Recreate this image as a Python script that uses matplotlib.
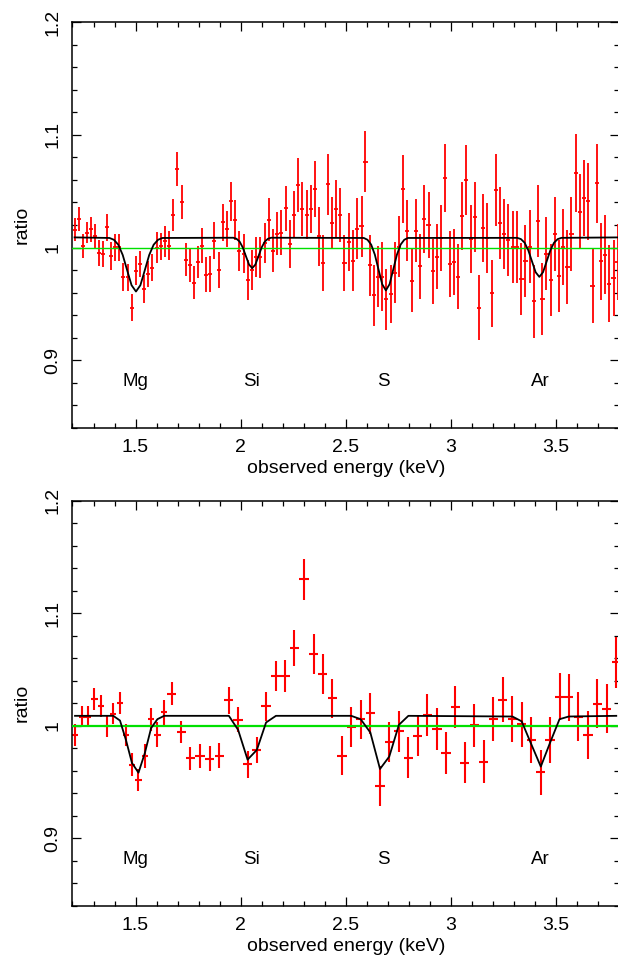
import matplotlib
matplotlib.use('Agg')
import matplotlib.pyplot as plt
from matplotlib.ticker import MultipleLocator, FixedLocator, FuncFormatter

plt.rcParams['font.family'] = ['Liberation Sans', 'DejaVu Sans']

# ---------------- top panel data (fine binning) ----------------
top_energy = [
    1.210, 1.229, 1.248, 1.268, 1.288, 1.307, 1.326, 1.345, 1.366, 1.385,
    1.404, 1.423, 1.442, 1.463, 1.482, 1.501, 1.521, 1.541, 1.561, 1.580,
    1.601, 1.621, 1.641, 1.661, 1.680, 1.699, 1.720, 1.739, 1.758, 1.777,
    1.798, 1.817, 1.836, 1.856, 1.875, 1.896, 1.917, 1.936, 1.956, 1.975,
    1.994, 2.015, 2.034, 2.055, 2.074,
    2.094, 2.115, 2.134, 2.153, 2.174, 2.194, 2.214, 2.234, 2.253, 2.274,
    2.293, 2.314, 2.333, 2.353, 2.372, 2.393, 2.414, 2.434, 2.455, 2.474,
    2.494, 2.515, 2.534, 2.555, 2.575, 2.594, 2.615, 2.634, 2.655, 2.674,
    2.693, 2.714, 2.733, 2.753, 2.774, 2.793, 2.814, 2.833, 2.853,
    2.874, 2.894, 2.915, 2.934, 2.955, 2.974, 2.994, 3.014, 3.034, 3.055,
    3.074, 3.094, 3.114, 3.134, 3.155, 3.174, 3.194, 3.215, 3.234, 3.255,
    3.274, 3.294, 3.315, 3.336, 3.355, 3.375, 3.396, 3.415, 3.436, 3.455,
    3.475, 3.494, 3.515, 3.534, 3.555, 3.574, 3.594, 3.614, 3.634, 3.653,
    3.674, 3.694, 3.714, 3.734, 3.753, 3.774, 3.793]
top_ratio = [
    1.0157, 1.0254, 1.0015, 1.0133, 1.0162, 1.0103, 0.9953, 0.9941, 1.0180, 0.9923,
    1.0003, 1.0003, 0.9737, 0.9737, 0.9466, 0.9796, 0.9855, 0.9631, 0.9764, 0.9823,
    0.9997, 1.0012, 1.0056, 1.0018, 1.0286, 1.0696, 1.0401, 0.9891, 0.9841, 0.9687,
    0.9873, 1.0018, 0.9761, 0.9767, 1.0062, 0.9802, 1.0224, 1.0165, 1.0409, 1.0245,
    0.9968, 0.9947, 0.9711, 0.9800, 0.9918,
    0.9914, 1.0041, 1.0248, 0.9973, 1.0121, 1.0130, 1.0348, 1.0032, 1.0292, 1.0552,
    1.0342, 1.0292, 1.0342, 1.0519, 1.0100, 0.9861, 1.0560, 1.0221, 1.0345, 1.0292,
    0.9861, 1.0050, 0.9885, 1.0165, 1.0189, 1.0761, 0.9844, 0.9578, 0.9743, 0.9743,
    0.9540, 0.9587, 0.9775, 1.0009, 1.0519, 1.0150, 0.9705, 1.0150, 0.9832,
    1.0251, 1.0201, 0.9788, 0.9920, 1.0083, 1.0614, 0.9853, 0.9873, 0.9743, 1.0277,
    1.0599, 1.0077, 1.0274, 0.9466, 1.0171, 1.0086, 0.9593, 1.0510, 1.0221, 1.0118,
    1.0068, 1.0006, 1.0006, 0.9720, 0.9879, 1.0009, 0.9522, 1.0233, 0.9543, 0.9947,
    0.9714, 1.0121, 0.9749, 1.0006, 0.9826, 1.0121, 1.0661, 1.0319, 1.0440, 1.0410,
    0.9661, 1.0569, 0.9879, 0.9935, 0.9681, 0.9729, 0.9873]
top_err = [
    0.0103, 0.0106, 0.0106, 0.0096, 0.0110, 0.0103, 0.0115, 0.0114, 0.0120, 0.0122,
    0.0118, 0.0118, 0.0125, 0.0121, 0.0118, 0.0125, 0.0118, 0.0125, 0.0118, 0.0118,
    0.0137, 0.0120, 0.0136, 0.0125, 0.0142, 0.0147, 0.0150, 0.0147, 0.0147, 0.0147,
    0.0145, 0.0152, 0.0155, 0.0162, 0.0167, 0.0162, 0.0165, 0.0160, 0.0173, 0.0178,
    0.0180, 0.0173, 0.0177, 0.0180, 0.0177,
    0.0180, 0.0180, 0.0190, 0.0190, 0.0190, 0.0200, 0.0200, 0.0210, 0.0210, 0.0240,
    0.0240, 0.0220, 0.0210, 0.0250, 0.0260, 0.0250, 0.0270, 0.0230, 0.0250, 0.0240,
    0.0250, 0.0260, 0.0270, 0.0270, 0.0270, 0.0270, 0.0270, 0.0270, 0.0270, 0.0310,
    0.0270, 0.0260, 0.0270, 0.0270, 0.0300, 0.0270, 0.0280, 0.0280, 0.0290,
    0.0300, 0.0290, 0.0290, 0.0290, 0.0290, 0.0300, 0.0290, 0.0290, 0.0290, 0.0300,
    0.0310, 0.0300, 0.0310, 0.0290, 0.0300, 0.0310, 0.0300, 0.0320, 0.0320, 0.0310,
    0.0320, 0.0320, 0.0320, 0.0320, 0.0320, 0.0320, 0.0320, 0.0320, 0.0320, 0.0320,
    0.0320, 0.0330, 0.0320, 0.0340, 0.0330, 0.0330, 0.0350, 0.0330, 0.0340, 0.0340,
    0.0330, 0.0350, 0.0340, 0.0350, 0.0340, 0.0340, 0.0340]
top_xerr = 0.0098

top_model_energy = [
    1.21, 1.376, 1.397, 1.418, 1.439, 1.460, 1.481, 1.502, 1.523, 1.544, 1.565, 1.586, 1.607, 1.628,
    1.965, 1.980, 1.995, 2.010, 2.025, 2.040, 2.055, 2.070, 2.085, 2.100, 2.115, 2.130, 2.145,
    2.586, 2.6035, 2.621, 2.6385, 2.656, 2.6735, 2.691, 2.7085, 2.726, 2.7435, 2.761, 2.7785, 2.796,
    3.316, 3.3335, 3.351, 3.3685, 3.386, 3.4035, 3.421, 3.4385, 3.456, 3.4735, 3.491, 3.5085, 3.526,
    3.80]
top_model_ratio = [
    1.009, 1.0085, 1.0069, 1.0025, 0.9934, 0.9799, 0.9666, 0.961, 0.9666, 0.9799, 0.9934, 1.0025, 1.0069, 1.0085,
    1.0087, 1.0078, 1.0053, 1.0001, 0.9924, 0.9849, 0.9817, 0.9849, 0.9924, 1.0001, 1.0053, 1.0078, 1.0087,
    1.0085, 1.0069, 1.0026, 0.9937, 0.9805, 0.9675, 0.962, 0.9675, 0.9805, 0.9937, 1.0026, 1.0069, 1.0085,
    1.0086, 1.0075, 1.0043, 0.9976, 0.9878, 0.9781, 0.974, 0.9781, 0.9878, 0.9976, 1.0043, 1.0075, 1.0086,
    1.009]

# ---------------- bottom panel data (coarse binning) ----------------
bottom_energy = [
    1.212, 1.244, 1.272, 1.304, 1.334, 1.364, 1.394, 1.426, 1.455, 1.483,
    1.514, 1.544, 1.574, 1.604, 1.636, 1.672, 1.717, 1.761, 1.807, 1.853,
    1.898, 1.944, 1.988, 2.033, 2.077, 2.121, 2.168, 2.212, 2.256, 2.302,
    2.347, 2.391, 2.437, 2.482, 2.526, 2.571, 2.617, 2.663, 2.707, 2.753,
    2.798, 2.842, 2.888, 2.934, 2.977, 3.021, 3.066, 3.112, 3.156, 3.202,
    3.247, 3.293, 3.337, 3.382, 3.428, 3.472, 3.517, 3.561, 3.607, 3.652,
    3.696, 3.741, 3.787]
bottom_ratio = [
    0.9920, 1.0083, 1.0083, 1.0237, 1.0178, 1.0000, 1.0107, 1.0199, 0.9917, 0.9656,
    0.9519, 0.9733, 1.0059, 0.9920, 1.0119, 1.0285, 0.9947, 0.9712, 0.9733, 0.9709,
    0.9733, 1.0226, 1.0053, 0.9660, 0.9786, 1.0172, 1.0442, 1.0442, 1.0692, 1.1300,
    1.0638, 1.0460, 1.0243, 0.9736, 0.9991, 1.0059, 1.0110, 0.9466, 0.9855, 0.9950,
    0.9718, 0.9911, 1.0095, 0.9970, 0.9757, 1.0169, 0.9673, 1.0006, 0.9682, 1.0059,
    1.0232, 1.0059, 1.0015, 0.9875, 0.9587, 0.9875, 1.0258, 1.0252, 1.0083, 0.9920,
    1.0196, 1.0154, 1.0564]
bottom_err = [
    0.0095, 0.0095, 0.0095, 0.0095, 0.0095, 0.0095, 0.0095, 0.0098, 0.0100, 0.0100,
    0.0100, 0.0103, 0.0103, 0.0110, 0.0113, 0.0100, 0.0100, 0.0104, 0.0107, 0.0114,
    0.0111, 0.0123, 0.0111, 0.0119, 0.0119, 0.0129, 0.0134, 0.0141, 0.0157, 0.0178,
    0.0181, 0.0180, 0.0174, 0.0170, 0.0175, 0.0175, 0.0182, 0.0180, 0.0180, 0.0180,
    0.0182, 0.0182, 0.0184, 0.0185, 0.0184, 0.0188, 0.0185, 0.0190, 0.0193, 0.0197,
    0.0200, 0.0202, 0.0200, 0.0205, 0.0200, 0.0208, 0.0208, 0.0212, 0.0215, 0.0215,
    0.0218, 0.0218, 0.0227]
bottom_xerr = [
    0.015, 0.015, 0.015, 0.015, 0.015, 0.015, 0.015, 0.015, 0.015, 0.015,
    0.015, 0.015, 0.015, 0.015, 0.016, 0.020, 0.022, 0.022, 0.022, 0.022,
    0.022, 0.022, 0.022, 0.022, 0.022, 0.022, 0.022, 0.022, 0.022, 0.022,
    0.022, 0.022, 0.022, 0.022, 0.022, 0.022, 0.022, 0.022, 0.022, 0.022,
    0.022, 0.022, 0.022, 0.022, 0.022, 0.022, 0.022, 0.022, 0.022, 0.022,
    0.022, 0.022, 0.022, 0.022, 0.022, 0.022, 0.022, 0.022, 0.022, 0.022,
    0.022, 0.022, 0.022]

bottom_model_energy = [
    1.212, 1.394, 1.426, 1.455, 1.483, 1.514, 1.544, 1.574, 1.604, 1.636,
    1.944, 1.988, 2.033, 2.077, 2.121, 2.168,
    2.526, 2.571, 2.617, 2.663, 2.707, 2.753, 2.798,
    3.293, 3.337, 3.382, 3.428, 3.472, 3.517, 3.561, 3.787]
bottom_model_ratio = [
    1.0089, 1.0089, 1.0047, 0.987, 0.967, 0.9584, 0.9757, 0.998, 1.0059, 1.0089,
    1.0089, 0.9964, 0.970, 0.9786, 1.003, 1.0089,
    1.0089, 1.0059, 0.9941, 0.9617, 0.9727, 1.0009, 1.0089,
    1.0083, 1.004, 0.984, 0.9638, 0.985, 1.0059, 1.0083, 1.0089]

line_names = ['Mg', 'Si', 'S', 'Ar']
line_label_energy = [1.50, 2.05, 2.68, 3.425]
label_level = 0.881

# ---------------- figure ----------------
fig = plt.figure(figsize=(6.18, 9.56), dpi=100)
ax1 = fig.add_axes([0.1173, 0.5523, 0.8843, 0.4247])
ax2 = fig.add_axes([0.1173, 0.0523, 0.8843, 0.4240])

fmt = FuncFormatter(lambda v, p: '%g' % round(v, 3))


def style(ax):
    ax.set_xlim(1.2, 3.8)
    ax.set_ylim(0.84, 1.2)
    ax.xaxis.set_major_locator(MultipleLocator(0.5))
    ax.xaxis.set_minor_locator(MultipleLocator(0.1))
    ax.yaxis.set_major_locator(FixedLocator([0.9, 1.0, 1.1, 1.2]))
    ax.yaxis.set_minor_locator(MultipleLocator(0.02))
    ax.xaxis.set_major_formatter(fmt)
    ax.yaxis.set_major_formatter(fmt)
    ax.tick_params(which='both', direction='in', top=True, right=True,
                   width=0.9, color='black')
    ax.tick_params(which='major', length=6.5, labelsize=14, pad=8)
    ax.tick_params(which='minor', length=3.6)
    ax.tick_params(axis='y', labelrotation=90)
    for lab in ax.get_yticklabels():
        lab.set_verticalalignment('center')
    for s in ax.spines.values():
        s.set_linewidth(1.1)
    ax.set_xlabel('observed energy (keV)', fontsize=14, labelpad=3)
    ax.set_ylabel('ratio', fontsize=14, labelpad=10)
    for name, e in zip(line_names, line_label_energy):
        ax.text(e, label_level, name, ha='center', va='center', fontsize=13.5)


# top
ax1.errorbar(top_energy, top_ratio, yerr=top_err, xerr=top_xerr, fmt='none',
             ecolor='#ff0000', elinewidth=1.3, capsize=0, zorder=2)
ax1.axhline(1.0, color='#00e000', lw=1.0, zorder=3)
ax1.plot(top_model_energy, top_model_ratio, color='black', lw=1.3, zorder=4)
style(ax1)

# bottom
ax2.errorbar(bottom_energy, bottom_ratio, yerr=bottom_err, xerr=bottom_xerr, fmt='none',
             ecolor='#ff0000', elinewidth=1.5, capsize=0, zorder=2)
ax2.axhline(1.0, color='#00e000', lw=1.6, zorder=3)
ax2.plot(bottom_model_energy, bottom_model_ratio, color='black', lw=1.3, zorder=4)
style(ax2)

fig.savefig('out.png', dpi=100)
